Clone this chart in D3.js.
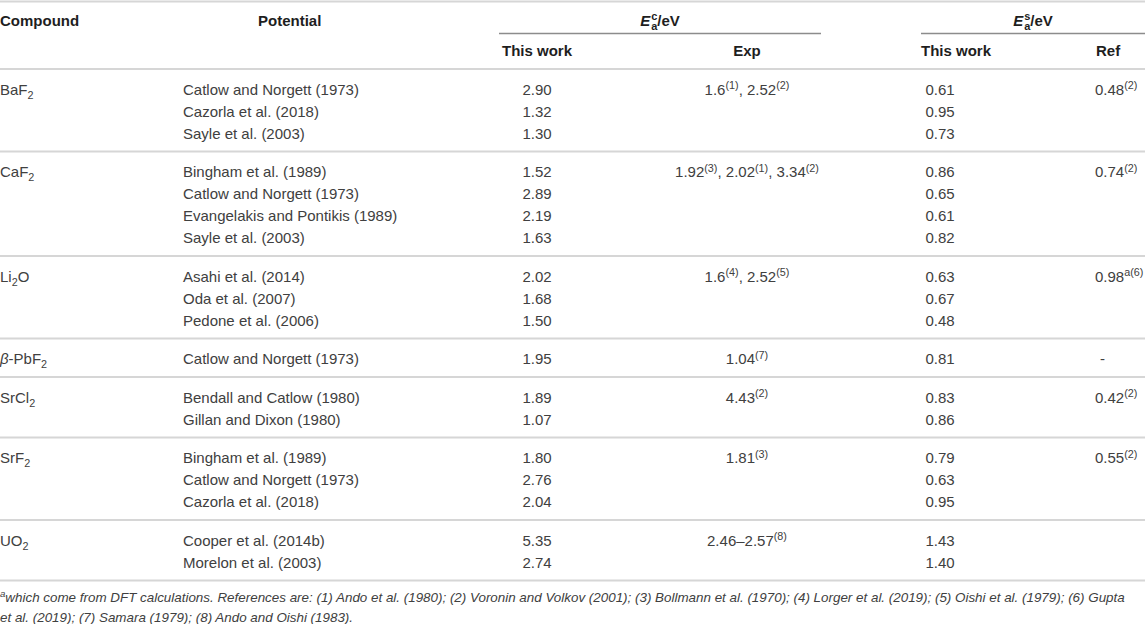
<!DOCTYPE html>
<html>
<head>
<meta charset="utf-8">
<script src="https://cdn.jsdelivr.net/npm/d3@7"></script>
<style>
  body { margin: 0; background: #fff; }
  svg text { font-family: "Liberation Sans", Arial, sans-serif; }
</style>
</head>
<body>
<div id="table"></div>
<script>

// ---- table contents ----
// markup: _{x} subscript, ^{x} superscript, *x* italic
var compounds = ["BaF_{2}", "CaF_{2}", "Li_{2}O", "*β*-PbF_{2}", "SrCl_{2}", "SrF_{2}", "UO_{2}"];

var potentials = [
    ["Catlow and Norgett (1973)", "Cazorla et al. (2018)", "Sayle et al. (2003)"],
    ["Bingham et al. (1989)", "Catlow and Norgett (1973)", "Evangelakis and Pontikis (1989)", "Sayle et al. (2003)"],
    ["Asahi et al. (2014)", "Oda et al. (2007)", "Pedone et al. (2006)"],
    ["Catlow and Norgett (1973)"],
    ["Bendall and Catlow (1980)", "Gillan and Dixon (1980)"],
    ["Bingham et al. (1989)", "Catlow and Norgett (1973)", "Cazorla et al. (2018)"],
    ["Cooper et al. (2014b)", "Morelon et al. (2003)"]
];

var ecThisWork = [
    [2.90, 1.32, 1.30],
    [1.52, 2.89, 2.19, 1.63],
    [2.02, 1.68, 1.50],
    [1.95],
    [1.89, 1.07],
    [1.80, 2.76, 2.04],
    [5.35, 2.74]
];

var ecExp = [
    "1.6^{(1)}, 2.52^{(2)}",
    "1.92^{(3)}, 2.02^{(1)}, 3.34^{(2)}",
    "1.6^{(4)}, 2.52^{(5)}",
    "1.04^{(7)}",
    "4.43^{(2)}",
    "1.81^{(3)}",
    "2.46–2.57^{(8)}"
];

var esThisWork = [
    [0.61, 0.95, 0.73],
    [0.86, 0.65, 0.61, 0.82],
    [0.63, 0.67, 0.48],
    [0.81],
    [0.83, 0.86],
    [0.79, 0.63, 0.95],
    [1.43, 1.40]
];

var esRef = ["0.48^{(2)}", "0.74^{(2)}", "0.98^{a(6)}", "-", "0.42^{(2)}", "0.55^{(2)}", ""];

var footnote = [
    "^{a}which come from DFT calculations. References are: (1) Ando et al. (1980); (2) Voronin and Volkov (2001); (3) Bollmann et al. (1970); (4) Lorger et al. (2019); (5) Oishi et al. (1979); (6) Gupta",
    "et al. (2019); (7) Samara (1979); (8) Ando and Oishi (1983)."
];


// ---- layout ----
var width = 1145, height = 624;
var rowH = 22, padTop = 20.5, padBottom = 18, headerLine = 69;
var textColor = "#404040", headColor = "#1e1e1e";

var svg = d3.select("#table").append("svg")
    .attr("width", width)
    .attr("height", height);

// column positions
var col = {
    compound: 0,
    potential: 183,
    potentialHead: 258,
    ecWork: 537,
    ecExp: 747,
    ecSpan: [499, 821],
    esWork: 925.5,
    esWorkHead: 921,
    esRef: 1095,
    esRefHead: 1096,
    esSpan: [921, 1145]
};

// writes a marked-up string into a text element as tspans
function rich(sel, str) {
    var parts = str.split(/(_\{[^}]*\}|\^\{[^}]*\}|\*[^*]*\*)/).filter(function(p) { return p !== ""; });
    var shift = 0;
    parts.forEach(function(p) {
        var t = sel.append("tspan");
        var target = 0, txt = p;
        if (p.indexOf("_{") === 0) {
            target = 4; txt = p.slice(2, -1);
            t.style("font-size", "0.72em");
        } else if (p.indexOf("^{") === 0) {
            target = -5.5; txt = p.slice(2, -1);
            t.style("font-size", "0.72em");
        } else if (p.charAt(0) === "*" && p.length > 1) {
            txt = p.slice(1, -1);
            t.style("font-style", "italic");
        }
        if (target - shift !== 0) t.attr("dy", target - shift);
        shift = target;
        t.text(txt);
    });
    return sel;
}

// ---- group vertical positions ----
var groups = [];
var yLine = headerLine;
potentials.forEach(function(rows, i) {
    var first = yLine + padTop;
    var y = d3.scaleLinear().domain([0, 1]).range([first, first + rowH]);
    var last = y(rows.length - 1);
    groups.push({ i: i, y: y, top: yLine, bottom: last + padBottom });
    yLine = last + padBottom;
});

// ---- rules ----
var rules = [1.5, headerLine].concat(groups.map(function(g) { return g.bottom; }));
svg.selectAll("line.rule")
    .data(rules)
    .enter()
    .append("line")
    .attr("class", "rule")
    .attr("x1", 0)
    .attr("x2", width)
    .attr("y1", d => d)
    .attr("y2", d => d)
    .attr("stroke", "#d6d6d6")
    .attr("stroke-width", 2);

svg.selectAll("line.span")
    .data([col.ecSpan, col.esSpan])
    .enter()
    .append("line")
    .attr("class", "span")
    .attr("x1", d => d[0])
    .attr("x2", d => d[1])
    .attr("y1", 33.5)
    .attr("y2", 33.5)
    .attr("stroke", "#8c8c8c")
    .attr("stroke-width", 1.3);

// ---- header ----
var head = svg.append("g")
    .style("font-size", "15px")
    .style("font-weight", "bold")
    .attr("fill", headColor);

head.append("text").attr("x", col.compound).attr("y", 26).text("Compound");
head.append("text").attr("x", col.potentialHead).attr("y", 26).text("Potential");

// E with stacked sub/superscript
function energyHead(x, sup) {
    var t = head.append("text").attr("x", x).attr("y", 26).attr("text-anchor", "middle");
    t.append("tspan").style("font-style", "italic").text("E");
    t.append("tspan").style("font-size", "11px").attr("dx", 1).attr("dy", -6).text(sup);
    t.append("tspan").style("font-size", "11px").attr("dx", -6.2).attr("dy", 10).text("a");
    t.append("tspan").attr("dy", -4).text("/eV");
}
energyHead((col.ecSpan[0] + col.ecSpan[1]) / 2, "c");
energyHead((col.esSpan[0] + col.esSpan[1]) / 2, "s");

var sub = [
    { x: col.ecWork, t: "This work", a: "middle" },
    { x: col.ecExp, t: "Exp", a: "middle" },
    { x: col.esWorkHead, t: "This work", a: "start" },
    { x: col.esRefHead, t: "Ref", a: "start" }
];
head.selectAll("text.sub")
    .data(sub)
    .enter()
    .append("text")
    .attr("class", "sub")
    .attr("x", d => d.x)
    .attr("y", 56)
    .attr("text-anchor", d => d.a)
    .text(d => d.t);

// ---- body ----
var body = svg.append("g")
    .style("font-size", "15px")
    .attr("fill", textColor);

var base = 5.4; // text centre -> baseline

var g = body.selectAll("g.group")
    .data(groups)
    .enter()
    .append("g")
    .attr("class", "group");

g.append("text")
    .attr("x", col.compound)
    .attr("y", d => d.y(0) + base)
    .each(function(d) { rich(d3.select(this), compounds[d.i]); });

g.each(function(d) {
    var sel = d3.select(this);

    sel.selectAll("text.pot")
        .data(potentials[d.i])
        .enter()
        .append("text")
        .attr("class", "pot")
        .attr("x", col.potential)
        .attr("y", (p, j) => d.y(j) + base)
        .text(p => p);

    sel.selectAll("text.ec")
        .data(ecThisWork[d.i])
        .enter()
        .append("text")
        .attr("class", "ec")
        .attr("x", col.ecWork)
        .attr("y", (v, j) => d.y(j) + base)
        .attr("text-anchor", "middle")
        .text(v => d3.format(".2f")(v));

    sel.selectAll("text.es")
        .data(esThisWork[d.i])
        .enter()
        .append("text")
        .attr("class", "es")
        .attr("x", col.esWork)
        .attr("y", (v, j) => d.y(j) + base)
        .text(v => d3.format(".2f")(v));
});

g.append("text")
    .attr("x", col.ecExp)
    .attr("y", d => d.y(0) + base)
    .attr("text-anchor", "middle")
    .each(function(d) { rich(d3.select(this), ecExp[d.i]); });

g.append("text")
    .attr("x", d => esRef[d.i] === "-" ? col.esRef + 5 : col.esRef)
    .attr("y", d => d.y(0) + base)
    .each(function(d) { rich(d3.select(this), esRef[d.i]); });

// ---- footnote ----
var foot = svg.append("g")
    .style("font-size", "13.4px")
    .style("font-style", "italic")
    .attr("fill", textColor);

foot.selectAll("text")
    .data(footnote)
    .enter()
    .append("text")
    .attr("x", 0)
    .attr("y", (d, i) => 602 + i * 19.5)
    .each(function(d) { rich(d3.select(this), d); });

</script>
</body>
</html>
